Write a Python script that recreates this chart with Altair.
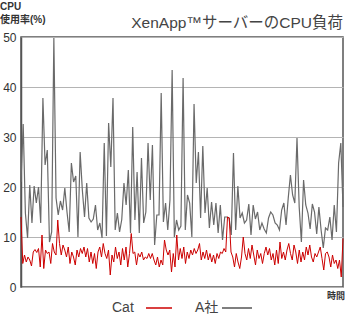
import altair as alt
import pandas as pd

# A社 (gray) CPU usage samples, in time order
a_values = [21, 32.6, 14.8, 9.8, 20.4, 12.8, 20.2, 16.8, 20, 12.8, 37.8, 24.4, 27.4, 9,
            11, 49.8, 17.8, 14.4, 17.2, 15.4, 19.8, 15, 11, 24.8, 21, 22.2, 10, 27,
            19.4, 14, 20.8, 13.8, 13, 13.6, 16.4, 11.4, 12.8, 9.8, 28.8, 10.2, 32.8, 24, 37.8,
            11.4, 14.8, 11, 13.5, 20.8, 16.4, 23.4, 10.8, 32, 13.4, 23, 10.8, 25.8, 12.8, 15,
            28.8, 17.4, 28.4, 8.4, 14.4, 14.4, 38.8, 13, 16.8, 11.4, 17.4, 43.4,
            10, 13.4, 11.4, 12.2, 41.8, 11.4, 18.4, 16.8, 10, 36.6, 20.8, 27, 13.8, 28.2, 14.8,
            19.8, 11.8, 17, 12.4, 16.8, 10.8, 16.4, 9.4, 14, 14, 13.8, 10.4, 26.8,
            11.4, 20.2, 13.8, 14.8, 12.8, 13.4, 16.6, 10.4, 16.4, 13.6, 15, 11.4, 12.8, 11.6,
            10.8, 13.8, 15, 14.4, 12.8, 12.4, 11.4, 15.4, 16.8, 12.4, 17.8, 22.4, 18.4, 16.8,
            29.8, 16, 9, 21.4, 16.4, 14.8, 11.6, 16.6, 15, 10.6, 16, 11.4, 7.8, 11.8, 11.4, 14,
            9.4, 16.4, 11, 24.8, 28.8, 16]

# Cat (red) CPU usage samples, in time order
cat_values = [14, 4.7, 6.4, 5, 6, 5.4, 4.2, 7, 7.5, 6.9, 7.7, 4, 10.4, 3.7, 7.4, 6.7, 7, 4.7,
              8.7, 7, 6.4, 13.4, 8.7, 6.4, 8.4, 7.4, 6, 8, 4.7, 7, 6, 4.4, 7.4, 6, 7.7, 6.7, 8,
              6, 7.7, 5, 7, 4.7, 6.7, 3.7, 7, 8, 6, 8.7, 6.7, 5.7, 7.4, 2.4, 6.4, 5, 8, 5.7, 7,
              4.4, 7.7, 5.4, 8, 4, 6.7, 10.7, 6.7, 7, 4.4, 6.7, 6, 7, 5.4, 6, 5.7, 6.7, 5.7, 6.7,
              5.4, 4.4, 6, 4, 5.4, 4.4, 9.4, 7.4, 6.4, 7.4, 3, 6.7, 4, 10.4, 5.4, 7.7, 5.7, 8,
              4.7, 7, 5.7, 7.4, 6.4, 7.7, 6.7, 7.4, 8.7, 5.4, 7, 5.7, 7.4, 5.4, 6.7, 5, 6.4, 4.7,
              6.7, 5.7, 7, 6.7, 7.7, 7, 14, 13.8, 7, 6, 4, 6.7, 5, 3.7, 6, 10, 6.7, 5.4, 7.7,
              5.7, 8.4, 6.4, 4.4, 7.4, 5.7, 6.7, 4.7, 6.7, 8, 6.4, 7.7, 5.4, 6.7, 4.4, 7.4, 4.7,
              9, 5.7, 7, 5.4, 7.4, 8.7, 6.7, 5.4, 8.4, 7, 4.7, 7.4, 5, 7, 5.4, 8, 6.4, 8.4, 6, 5,
              6.7, 6, 7, 8, 5.7, 3.4, 6.7, 7, 6, 4, 6.4, 4.7, 5.4, 3.7, 5.4, 2, 9.7]

y_ticks = [0, 10, 20, 30, 40, 50]
title_text = "XenApp™サーバーのCPU負荷"
y_title = ["CPU", "使用率(%)"]
x_title = "時間"
legend_labels = ["Cat", "A社"]

RED = "#cc0000"
GRAY = "#6a6a6a"
LATIN = "Liberation Sans, Noto Sans CJK JP"

def frame(vals):
    n = len(vals)
    return pd.DataFrame({"t": [i / (n - 1) * 100 for i in range(n)], "v": vals})

xs = alt.X("t:Q", scale=alt.Scale(domain=[0, 100], nice=False), axis=None)
ys = alt.Y("v:Q", scale=alt.Scale(domain=[0, 50], nice=False),
           axis=alt.Axis(values=y_ticks, grid=True, gridColor="#b4b4b4", gridWidth=1,
                         domain=True, domainColor="#555", domainWidth=1.5, ticks=False,
                         labelPadding=5, labelFontSize=12, labelColor="#333", labelFont=LATIN,
                         title=None))

gray_line = alt.Chart(frame(a_values)).mark_line(color=GRAY, strokeWidth=1.2).encode(x=xs, y=ys)
red_line = alt.Chart(frame(cat_values)).mark_line(color=RED, strokeWidth=1).encode(x=xs, y=ys)

def text(s, x, y, size, align="left", weight="normal", color="#333"):
    return alt.Chart(pd.DataFrame({"s": [s]})).mark_text(
        align=align, baseline="alphabetic", fontSize=size, font=LATIN,
        fontWeight=weight, color=color).encode(x=alt.value(x), y=alt.value(y), text="s:N")

title = text(title_text, 322, -9, 15.5, align="right", color="#444")
yt1 = text(y_title[0], -21, -27, 10, weight="bold", color="#333")
yt2 = text(y_title[1], -21, -14, 10, weight="bold", color="#333")
xt = text(x_title, 324, 262, 9, align="right", weight="bold", color="#333")
leg1 = text(legend_labels[0], 91, 275, 14, color="#444")
leg2 = text(legend_labels[1], 174, 275, 14, color="#444")
sw1 = alt.Chart(pd.DataFrame({"a": [0]})).mark_rule(color=RED, strokeWidth=1.5).encode(
    x=alt.value(125), x2=alt.value(151), y=alt.value(271))
sw2 = alt.Chart(pd.DataFrame({"a": [0]})).mark_rule(color="#555", strokeWidth=1.5).encode(
    x=alt.value(201), x2=alt.value(231), y=alt.value(271))

chart = alt.layer(gray_line, red_line, title, yt1, yt2, xt, leg1, leg2, sw1, sw2).properties(
    width=322, height=250, autosize=alt.AutoSizeParams(type="none"),
    padding={"left": 21, "top": 37, "right": 3, "bottom": 27},
    background="white",
).configure_view(stroke="#555", strokeWidth=1.5)

chart.save("out.html", embed_options={"renderer": "svg", "actions": False})
